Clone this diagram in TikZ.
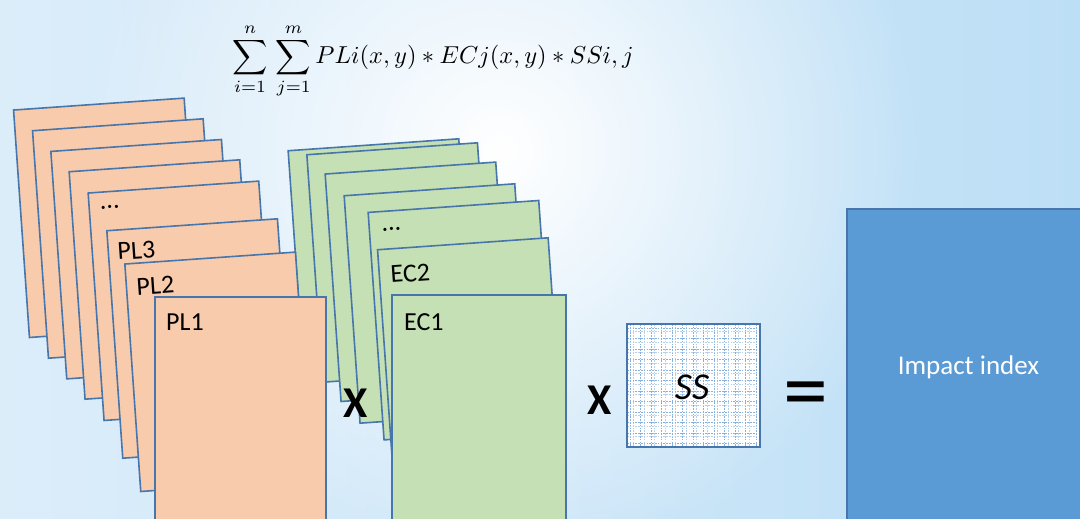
\documentclass[tikz,border=0pt]{standalone}
\usepackage{fix-cm}
\usepackage[no-math]{fontspec}
\setmainfont{Carlito}
\usetikzlibrary{fadings,calc}
\definecolor{bgL}{HTML}{DCEDFA}
\definecolor{bgR}{HTML}{BDDFF6}
\definecolor{edge}{HTML}{4676AC}
\definecolor{plfill}{HTML}{F8CBAD}
\definecolor{ecfill}{HTML}{C5E0B4}
\definecolor{impfill}{HTML}{5B9BD5}
\definecolor{gridc}{HTML}{86B0DE}
\tikzfading[name=glow, inner color=transparent!0, outer color=transparent!100]
\begin{document}
\begin{tikzpicture}[x=1pt,y=1pt,
  sheetbox/.style={draw=edge, line width=1.6pt, minimum width=171pt, minimum height=228pt, inner sep=0pt, anchor=north west},
  plsheet/.style={sheetbox, fill=plfill},
  ecsheet/.style={sheetbox, fill=ecfill},
  lbl/.style={font=\fontsize{26}{30}\selectfont, inner sep=0pt, anchor=base west, text=black},
  opsign/.style={font=\bfseries\fontsize{44}{50}\selectfont, inner sep=0pt},
  gridline/.style={gridc, line width=0.8pt, dash pattern=on 1.6pt off 1.2pt}]
\useasboundingbox (0,0) rectangle (1080,-519);
\clip (0,0) rectangle (1080,-519);
% background
\shade[left color=bgL, right color=bgR] (0,0) rectangle (1080,-519);
\fill[white, path fading=glow] (500,-150) circle (420);

% formula
\node[inner sep=0pt, font=\fontsize{10}{12}\selectfont, scale=2.45] (formula) at (433,-61)
  {$\displaystyle\sum_{i=1}^{n}\,\sum_{j=1}^{m} PLi(x,y) * ECj(x,y) * SSi,j$};

% EC stack
\node[ecsheet, rotate=4] (ec7) at (287.3,-150) {};
\node[ecsheet, rotate=4] (ec6) at (306,-154) {};
\node[ecsheet, rotate=4] (ec5) at (324.3,-173.3) {};
\node[ecsheet, rotate=4] (ec4) at (343.3,-195) {};
\node[ecsheet, rotate=4] (ec3) at (367.3,-211.7) {};
\node[lbl, rotate=4] (ec3t) at ([shift={(14.4,-19.5)}]ec3.north west) {...};
\node[ecsheet, rotate=4] (ec2) at (376.7,-249) {};
\node[lbl, rotate=4] (ec2t) at ([shift={(14.3,-34)}]ec2.north west) {EC2};
\node[ecsheet, minimum width=174pt] (ec1) at (391,-294) {};
\node[lbl] (ec1t) at ([shift={(13,-36)}]ec1.north west) {EC1};

% PL stack
\node[plsheet, rotate=4] (pl8) at (12.7,-109.3) {};
\node[plsheet, rotate=4] (pl7) at (31.7,-130) {};
\node[plsheet, rotate=4] (pl6) at (50,-150.7) {};
\node[plsheet, rotate=4] (pl5) at (68.3,-171) {};
\node[plsheet, rotate=4] (pl4) at (87.3,-192.3) {};
\node[lbl, rotate=4] (pl4t) at ([shift={(12.7,-17)}]pl4.north west) {...};
\node[plsheet, rotate=4] (pl3) at (106,-230) {};
\node[lbl, rotate=4] (pl3t) at ([shift={(12,-30)}]pl3.north west) {PL3};
\node[plsheet, rotate=4] (pl2) at (124,-263.3) {};
\node[lbl, rotate=4] (pl2t) at ([shift={(13,-32)}]pl2.north west) {PL2};
\node[plsheet] (pl1) at (154,-296) {};
\node[lbl] (pl1t) at ([shift={(12,-34)}]pl1.north west) {PL1};

% operators
\node[opsign] (times1) at (356,-403) {X};
\node[opsign] (times2) at (600,-400) {X};
\node[inner sep=0pt, font=\fontsize{90}{100}\selectfont] (equals) at (806,-401) {=};

% SS grid
\fill[white] (627,-324) rectangle (760,-447);
\foreach \k in {0,...,12} {
  \draw[gridline] (630+\k*10.5,-324) -- (630+\k*10.5,-447);
  \draw[gridline, gridc!60] (633.5+\k*10.5,-324) -- (633.5+\k*10.5,-447);
}
\foreach \k in {0,...,11} {
  \draw[gridline] (627,-328+\k*-10.5) -- (760,-328+\k*-10.5);
  \draw[gridline, gridc!60] (627,-331.5+\k*-10.5) -- (760,-331.5+\k*-10.5);
}
\node[draw=edge, line width=1.2pt, minimum width=133pt, minimum height=123pt, inner sep=0pt] (ss) at (693.5,-385.5) {};
\node[inner sep=0pt, font=\itshape\fontsize{38}{44}\selectfont] (sst) at (692,-387) {\textit{SS}};

% result
\node[draw=edge, line width=1.6pt, fill=impfill, minimum width=243pt, minimum height=316pt,
      inner sep=0pt, text=white, font=\fontsize{27}{32}\selectfont] (impact) at (968.5,-367) {Impact index};
\end{tikzpicture}
\end{document}
